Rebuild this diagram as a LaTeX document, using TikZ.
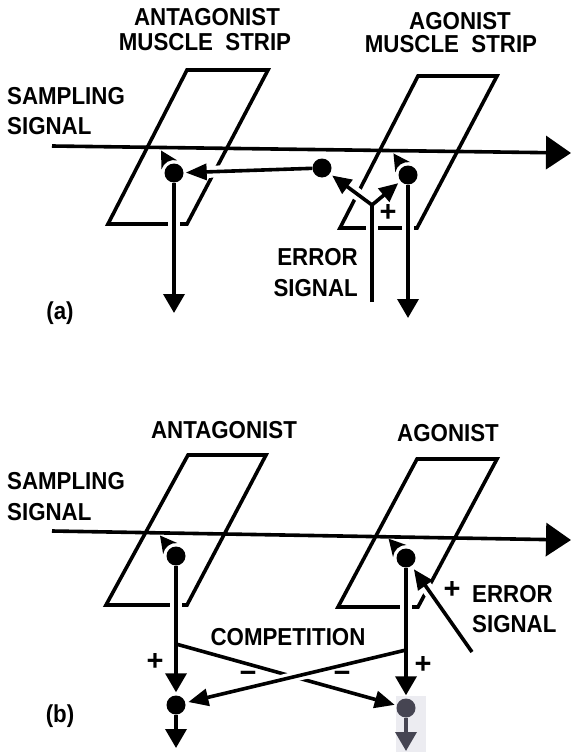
\documentclass[tikz,border=0pt]{standalone}
\usepackage{fontspec}
\setmainfont{Liberation Sans}
\usetikzlibrary{arrows.meta,calc}
\pgfdeclarelayer{bg}
\pgfsetlayers{bg,main}
\definecolor{dimgrey}{RGB}{70,69,82}
\definecolor{lightbox}{RGB}{236,236,241}
\newcommand\syncup[2]{%
  \fill ($(#1.center)+(#2:26)$) -- ($(#1.center)+(#2-44:13)$)
    arc[start angle=#2-44,end angle=#2+44,radius=13] -- cycle;}
\newcommand\T[1]{\scalebox{0.91}[1]{#1}}
\begin{document}
\begin{tikzpicture}[x=1pt,y=-1pt,
  lbl/.style={inner sep=0pt,font=\fontsize{24.5}{26}\selectfont\bfseries},
  sgn/.style={inner sep=0pt,font=\fontsize{29}{30}\selectfont\bfseries},
  ln/.style={line width=3.6pt},
  strip/.style={line width=3.6pt,line join=miter},
  arr/.style={line width=3.6pt,-{Triangle[length=19pt,width=21pt]}},
  sarr/.style={line width=3.6pt,-{Triangle[length=20pt,width=17pt]}},
  darr/.style={line width=3.6pt,{Triangle[length=19pt,width=17pt]}-{Triangle[length=19pt,width=17pt]}},
  harr/.style={line width=3.6pt,-{Triangle[length=21pt,width=16pt]}},
  bigarr/.style={line width=3.6pt,-{Triangle[length=25pt,width=33pt]}},
  halo/.style={draw=white,line width=12pt},
  dot/.style={circle,fill=black,inner sep=0pt,minimum size=19pt},
]
\useasboundingbox (0,0) rectangle (571,752);

% ---------------- panel (a) ----------------
\coordinate (sa0) at (52,146);
\coordinate (sa1) at (571,153);
\node[dot] (aant) at (174,173) {};
\node[dot] (amid) at (322,168) {};
\node[dot] (aag) at (408,175) {};
\coordinate (aantT) at (174,313);
\coordinate (aagT) at (408,318);
\coordinate (aerr) at (372,302);
\coordinate (ajn) at (372,205);

% ---------------- panel (b) ----------------
\coordinate (sb0) at (52,531);
\coordinate (sb1) at (571,540);
\node[dot] (bant) at (176,556) {};
\node[dot] (bag) at (406,558) {};
\node[dot] (bantB) at (176,705) {};
\fill[lightbox] (396,696) rectangle (426,752);
\node[dot,fill=dimgrey] (bagB) at (406,708) {};
\coordinate (bantT) at (176,748);
\coordinate (bagT) at (406,751);
\coordinate (bjl) at (176,644);
\coordinate (bjr) at (406,650);
\coordinate (berr) at (472,652);

\begin{pgfonlayer}{bg}
  \fill[white] (0,0) rectangle (571,752);
  % strips (a)
  \draw[strip] (187,70) -- (268,70) -- (187,224) -- (108,224) -- cycle;
  \draw[strip] (418,76) -- (497,76) -- (417,228) -- (340,228) -- cycle;
  % strips (b)
  \draw[strip] (188,455) -- (266,455) -- (187,605) -- (106,605) -- cycle;
  \draw[strip] (417,459) -- (497,459) -- (418,607) -- (338,607) -- cycle;
  % gaps where lines cross the strips
  \draw[halo] (aant) -- (aantT);
  \draw[halo] (aag) -- (aagT);
  \draw[halo] (aerr) -- (ajn);
  \draw[halo] (ajn) -- (amid);
  \draw[halo] (amid) -- (aant);
  \draw[halo] (bant) -- (bantB);
  \draw[halo] (bag) -- (bagB);
  \draw[halo] (berr) -- (bag);
\end{pgfonlayer}

% connectors (a)
\draw[bigarr] (sa0) -- (sa1);
\draw[harr,shorten >=2pt] (amid) -- (aant);
\draw[arr] (aant) -- (aantT);
\draw[arr] (aag) -- (aagT);
\draw[ln] (aerr) -- (ajn);
\draw[darr,shorten <=3pt,shorten >=3pt,line join=miter] (amid) -- (ajn) -- (aag);
\syncup{aant}{240}
\syncup{aag}{236}

% connectors (b)
\draw[bigarr] (sb0) -- (sb1);
\draw[arr,shorten >=3pt] (bant) -- (bantB);
\draw[arr,shorten >=3pt] (bag) -- (bagB);
\draw[arr] (bantB) -- (bantT);
\draw[arr,draw=dimgrey,fill=dimgrey] (bagB) -- (bagT);
\draw[sarr,shorten >=2pt] (bjl) -- (bagB);
\draw[draw=white,line width=10pt] ($(bjr)!0.42!(bantB)$) -- ($(bjr)!0.56!(bantB)$);
\draw[sarr,shorten >=3pt] (bjr) -- (bantB);
\draw[sarr,shorten >=4pt] (berr) -- (bag);
\syncup{bant}{232}
\syncup{bag}{228}

% labels (a)
\node[lbl] (tA1) at (207,17) {\T{ANTAGONIST}};
\node[lbl] (tA2) at (205,42) {\T{MUSCLE\ \ STRIP}};
\node[lbl] (tA3) at (460,21) {\T{AGONIST}};
\node[lbl] (tA4) at (451,44) {\T{MUSCLE\ \ STRIP}};
\node[lbl,anchor=west] (tA5) at (7,96) {\T{SAMPLING}};
\node[lbl,anchor=west] (tA6) at (7,126) {\T{SIGNAL}};
\node[lbl,anchor=east] (tA7) at (358,257) {\T{ERROR}};
\node[lbl,anchor=east] (tA8) at (358,288) {\T{SIGNAL}};
\node[sgn] (tA9) at (388,213) {+};
\node[lbl] (tA10) at (60,313) {\T{(a)}};

% labels (b)
\node[lbl] (tB1) at (224,430) {\T{ANTAGONIST}};
\node[lbl] (tB2) at (448,433) {\T{AGONIST}};
\node[lbl,anchor=west] (tB3) at (7,481) {\T{SAMPLING}};
\node[lbl,anchor=west] (tB4) at (7,512) {\T{SIGNAL}};
\node[lbl] (tB5) at (288,637) {\T{COMPETITION}};
\node[sgn] (tB6) at (155,662) {+};
\node[sgn] (tB7) at (423,665) {+};
\node[sgn] (tB8) at (248,677) {−};
\node[sgn] (tB9) at (342,677) {−};
\node[sgn] (tB10) at (452,590) {+};
\node[lbl,anchor=west] (tB11) at (472,594) {\T{ERROR}};
\node[lbl,anchor=west] (tB12) at (472,624) {\T{SIGNAL}};
\node[lbl] (tB13) at (60,716) {\T{(b)}};
\end{tikzpicture}
\end{document}
